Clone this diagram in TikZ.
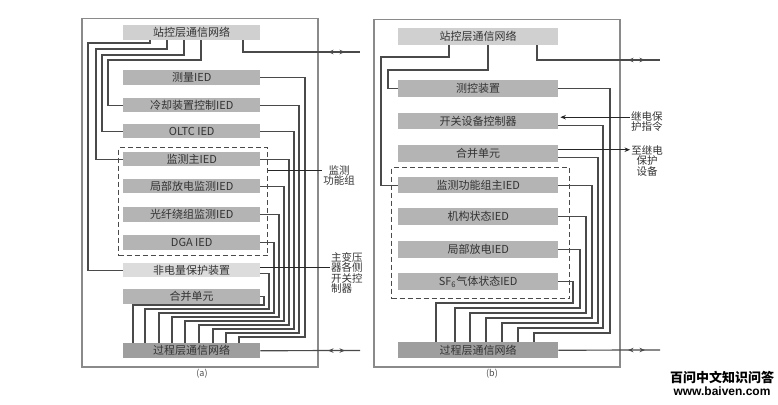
\documentclass[tikz,border=0pt]{standalone}
\usepackage{fontspec}
\setmainfont{Noto Sans CJK SC}
\newfontfamily\wmlatin{Liberation Sans}
\usetikzlibrary{calc,arrows.meta,decorations.markings}
\definecolor{iedfill}{HTML}{B4B4B4}
\definecolor{topfill}{HTML}{D0D0D0}
\definecolor{nonfill}{HTML}{DCDCDC}
\definecolor{botfill}{HTML}{9E9E9E}
\definecolor{txt}{HTML}{333333}
\definecolor{conncol}{HTML}{4A4A4A}
\definecolor{panelcol}{HTML}{8A8A8A}
\begin{document}
\begin{tikzpicture}[x=1pt,y=-1pt,
  panel/.style={draw=panelcol, line width=1.5pt, fill=white, anchor=north west, inner sep=0pt},
  grpbox/.style={draw=conncol, dashed, dash pattern=on 5pt off 3pt, line width=1pt, anchor=north west, inner sep=0pt},
  box/.style={fill=iedfill, text=txt, font=\fontsize{11}{11}\selectfont, inner sep=0pt, anchor=north west},
  abox/.style={box, minimum width=137pt},
  bbox/.style={box, minimum width=160pt},
  conn/.style={draw=conncol, line width=1.2pt},
  thinl/.style={draw=black!85, line width=0.8pt},
  lbl/.style={text=txt, font=\fontsize{10.5}{10.5}\selectfont, inner sep=1pt},
  ext/.style={postaction={decorate,decoration={markings,
     mark=at position -32pt with {\arrowreversed{Stealth[length=5.5pt,width=4.5pt]}},
     mark=at position -15pt with {\arrow{Stealth[length=5.5pt,width=4.5pt]}}}}},
  captxt/.style={text=black!70, font=\fontsize{9}{9}\selectfont}
]
\useasboundingbox (0,0) rectangle (778,404);

% ---------- panel (a) ----------
\node[panel, minimum width=236pt, minimum height=348pt] (aPanel) at (81,18) {};
\node[grpbox, minimum width=149pt, minimum height=108pt] (aGrp) at (118,147) {};

\node[abox, fill=topfill, minimum height=15pt] (aTop) at (123,25) {站控层通信网络};
\node[abox, minimum height=15pt] (aMeas) at (123,70) {测量IED};
\node[abox, minimum height=14pt] (aCool) at (123,98) {冷却装置控制IED};
\node[abox, minimum height=14pt] (aOLTC) at (123,124) {OLTC IED};
\node[abox, minimum height=14pt] (aMain) at (123,152) {监测主IED};
\node[abox, minimum height=14pt] (aPD) at (123,179) {局部放电监测IED};
\node[abox, minimum height=15pt] (aFib) at (123,207) {光纤绕组监测IED};
\node[abox, minimum height=15pt] (aDGA) at (123,235) {DGA IED};
\node[abox, fill=nonfill, minimum height=14pt] (aNon) at (123,263) {非电量保护装置};
\node[abox, minimum height=15pt] (aMU) at (123,289) {合并单元};
\node[abox, fill=botfill, minimum height=15pt] (aBot) at (123,343) {过程层通信网络};

% left side links
\draw[conn] (150,0 |- aTop.south) |- (88,43) |- (aNon.west);
\draw[conn] (167,0 |- aTop.south) |- (96,49) |- (aMain.west);
\draw[conn] (184,0 |- aTop.south) |- (102,55) |- (aOLTC.west);
\draw[conn] (201,0 |- aTop.south) |- (108,60) |- (aCool.west);
\coordinate (aOutT) at (360,52);
\draw[conn,ext] (243,0 |- aTop.south) |- (aOutT);

% right side links to process bus
\foreach \n/\vx/\ly/\ex in {aMeas/305/337/239, aCool/299/333/226, aOLTC/294/329/213,
  aMain/289/325/199, aPD/284/321/185, aFib/279/317/172, aDGA/274/313/159, aMU/264/305/133}
  \draw[conn] (\n.east) -| (\vx,\ly) -| (\ex,0 |- aBot.north);
\coordinate (aNonD) at ($(aNon.east)+(0,3)$);
\draw[conn] (aNonD) -| (269,309) -| (145,0 |- aBot.north);

\coordinate (aOutB) at (360,350.5);
\draw[conn,ext] (aBot.east) -- (aOutB);

% labels (a)
\node[lbl, align=center, anchor=north] (lblMon) at (339,164) {监测\\功能组};
\coordinate (aGrpR) at ($(aGrp.north east)+(0,23)$);
\draw[thinl] (aGrpR) -- (aGrpR -| lblMon.west);
\node[lbl, align=left, anchor=north west] (lblTrans) at (330,251) {主变压\\器各侧\\开关控\\制器};
\coordinate (aNonU) at ($(aNon.east)+(0,-3)$);
\draw[thinl] (aNonU) -- (aNonU -| lblTrans.west);

\node[captxt] (capA) at (202,374) {(a)};

% ---------- panel (b) ----------
\node[panel, minimum width=246pt, minimum height=347pt] (bPanel) at (373,19) {};
\node[grpbox, minimum width=178pt, minimum height=131pt] (bGrp) at (391,167) {};

\node[bbox, fill=topfill, minimum height=17pt] (bTop) at (398,28) {站控层通信网络};
\node[bbox, minimum height=17pt] (bMC) at (398,80) {测控装置};
\node[bbox, minimum height=16pt] (bSw) at (398,113) {开关设备控制器};
\node[bbox, minimum height=17pt] (bMU) at (398,145) {合并单元};
\node[bbox, minimum height=16pt] (bMain) at (398,177) {监测功能组主IED};
\node[bbox, minimum height=17pt] (bMech) at (398,208) {机构状态IED};
\node[bbox, minimum height=17pt] (bPD) at (398,241) {局部放电IED};
\node[bbox, minimum height=17pt] (bSF) at (398,273) {SF\textsubscript{6}气体状态IED};
\node[bbox, fill=botfill, minimum height=16pt] (bBot) at (398,342) {过程层通信网络};

% left side links
\draw[conn] (449,0 |- bTop.south) |- (381,57) |- (bMain.west);
\draw[conn] (488,0 |- bTop.south) |- (388,70) |- (bMC.west);
\coordinate (bOutT) at (660,60);
\draw[conn,ext] (537,0 |- bTop.south) |- (bOutT);

% right side links
\coordinate (bSwD) at ($(bSw.east)+(0,4)$);
\coordinate (bMUD) at ($(bMU.east)+(0,4)$);
\draw[conn] (bMC.east) -| (610,333) -| (534,0 |- bBot.north);
\draw[conn] (bSwD) -| (603,328) -| (518,0 |- bBot.north);
\draw[conn] (bMUD) -| (598,323) -| (502,0 |- bBot.north);
\draw[conn] (bMain.east) -| (592,318) -| (486,0 |- bBot.north);
\draw[conn] (bMech.east) -| (586,313) -| (470,0 |- bBot.north);
\draw[conn] (bPD.east) -| (580,308) -| (455,0 |- bBot.north);
\draw[conn] (bSF.east) -| (573,303) -| (436,0 |- bBot.north);

\coordinate (bOutB) at (660,350);
\draw[conn,ext] (bBot.east) -- (bOutB);

% labels (b)
\node[lbl, align=left, anchor=north west] (lblRelay) at (630,110) {继电保\\护指令};
\coordinate (bSwU) at ($(bSw.east)+(0,-4)$);
\draw[thinl,-{Stealth[length=5.5pt,width=4.5pt]}] (bSwU -| lblRelay.west) -- ($(bSwU)+(2,0)$);
\node[lbl, align=center, anchor=north] (lblTo) at (647,144) {至继电\\保护\\设备};
\coordinate (bMUU) at ($(bMU.east)+(0,-4)$);
\draw[thinl,-{Stealth[length=5.5pt,width=4.5pt]}] (bMUU) -- (bMUU -| lblTo.west);

\node[captxt] (capB) at (492,374) {(b)};

% watermark
\node[font=\bfseries\fontsize{13}{13}\selectfont, inner sep=0pt] (wm1) at (722,377) {百问中文知识问答};
\node[font=\wmlatin\bfseries\fontsize{12}{12}\selectfont, inner sep=0pt] (wm2) at (722,391) {www.baiven.com};
\end{tikzpicture}
\end{document}
